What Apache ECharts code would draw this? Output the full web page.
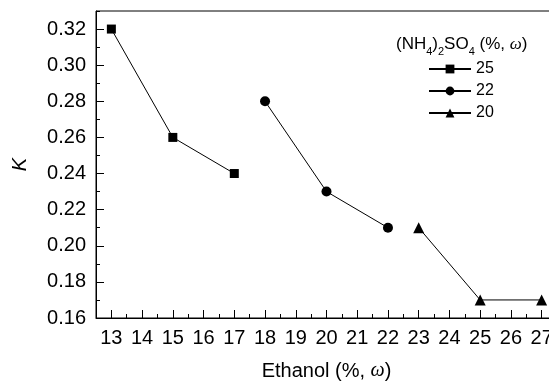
<!DOCTYPE html>
<html lang="en">
<head>
  <meta charset="UTF-8">
  <script src="https://cdn.jsdelivr.net/npm/echarts@6/dist/echarts.min.js"></script>
  <title>K vs Ethanol</title>
  <style>
    html, body { margin: 0; padding: 0; background: #fff; }
  </style>
</head>
<body>
  <div id="chart" style="width: 549px;height:382px;"></div>

  <script>
    // data
    var ethanol25 = [13, 15, 17];
    var k25 = [0.32, 0.26, 0.24];
    var ethanol22 = [18, 20, 22];
    var k22 = [0.28, 0.23, 0.21];
    var ethanol20 = [23, 25, 27];
    var k20 = [0.21, 0.17, 0.17];

    var seriesNames = ['25', '22', '20'];
    var xTickLabels = [13, 14, 15, 16, 17, 18, 19, 20, 21, 22, 23, 24, 25, 26, 27];
    var yTickLabels = [0.16, 0.18, 0.20, 0.22, 0.24, 0.26, 0.28, 0.30, 0.32];

    function pairs(xs, ys) {
      var out = [];
      for (var i = 0; i < xs.length; i++) {
        out.push([xs[i], ys[i]]);
      }
      return out;
    }

    var chart = echarts.init(document.getElementById('chart'));
    var font = 'Liberation Sans, Arial, sans-serif';
    var serif = 'Liberation Serif, serif';

    function lineSeries(name, data, symbol, size) {
      return {
        name: name,
        type: 'line',
        data: data,
        symbol: symbol,
        symbolSize: size,
        color: '#000',
        lineStyle: { color: '#000', width: 1 },
        itemStyle: { color: '#000' },
        animation: false
      };
    }

    var option = {
      animation: false,
      grid: {
        left: 96, top: 11, right: -8, bottom: 64,
        outerBoundsMode: 'none',
        containLabel: false,
        show: true, borderColor: '#000', borderWidth: 1
      },
      graphic: [{
        type: 'text',
        left: 396,
        top: 36,
        style: {
          text: '{a|(NH}{s|4}{a|)}{s|2}{a|SO}{s|4}{a| (%, }{i|ω}{a|)}',
          rich: {
            a: { fontSize: 17, fontFamily: font, lineHeight: 20, verticalAlign: 'bottom', fill: '#000' },
            s: { fontSize: 11, fontFamily: font, lineHeight: 14, verticalAlign: 'bottom', fill: '#000', padding: [0, 0, -4, 0] },
            i: { fontSize: 17, fontFamily: serif, fontStyle: 'italic', lineHeight: 20, verticalAlign: 'bottom', fill: '#000' }
          }
        }
      }],
      legend: {
        orient: 'vertical',
        left: 423,
        top: 56,
        itemWidth: 42,
        itemHeight: 11,
        itemGap: 6,
        data: seriesNames,
        textStyle: { fontSize: 16, fontFamily: font, color: '#000', lineHeight: 16 }
      },
      xAxis: [{
        type: 'value',
        min: 12.5,
        max: 27.5,
        interval: 0.5,
        name: '{a|Ethanol (%, }{i|ω}{a|)}',
        nameLocation: 'middle',
        nameGap: 43,
        nameTextStyle: {
          rich: {
            a: { fontSize: 20, fontFamily: font, color: '#000' },
            i: { fontSize: 20, fontFamily: serif, fontStyle: 'italic', color: '#000' }
          }
        },
        splitLine: { show: false },
        axisLine: { show: true, onZero: false, lineStyle: { color: '#000', width: 1 } },
        axisTick: { inside: true, length: 4, lineStyle: { color: '#000' } },
        axisLabel: {
          customValues: xTickLabels,
          fontSize: 20, fontFamily: font, color: '#000', margin: 10
        }
      }, {
        type: 'value',
        position: 'bottom',
        min: 12.5,
        max: 27.5,
        splitLine: { show: false },
        axisLine: { show: false },
        axisTick: { inside: true, length: 8, customValues: xTickLabels, lineStyle: { color: '#000' } },
        axisLabel: { show: false }
      }],
      yAxis: [{
        type: 'value',
        min: 0.16,
        max: 0.33,
        interval: 0.01,
        name: 'K',
        nameLocation: 'middle',
        nameGap: 66,
        nameTextStyle: { fontSize: 20, fontStyle: 'italic', fontFamily: font, color: '#000' },
        splitLine: { show: false },
        axisLine: { show: true, onZero: false, lineStyle: { color: '#000', width: 1 } },
        axisTick: { inside: true, length: 4, lineStyle: { color: '#000' } },
        axisLabel: {
          customValues: yTickLabels,
          formatter: function (v) { return v.toFixed(2); },
          fontSize: 20, fontFamily: font, color: '#000', margin: 10
        }
      }, {
        type: 'value',
        position: 'left',
        min: 0.16,
        max: 0.33,
        splitLine: { show: false },
        axisLine: { show: false },
        axisTick: { inside: true, length: 8, customValues: yTickLabels, lineStyle: { color: '#000' } },
        axisLabel: { show: false }
      }],
      series: [
        lineSeries('25', pairs(ethanol25, k25), 'rect', 9),
        lineSeries('22', pairs(ethanol22, k22), 'circle', 10),
        lineSeries('20', pairs(ethanol20, k20), 'triangle', 11)
      ]
    };

    chart.setOption(option);
  </script>
</body>
</html>
